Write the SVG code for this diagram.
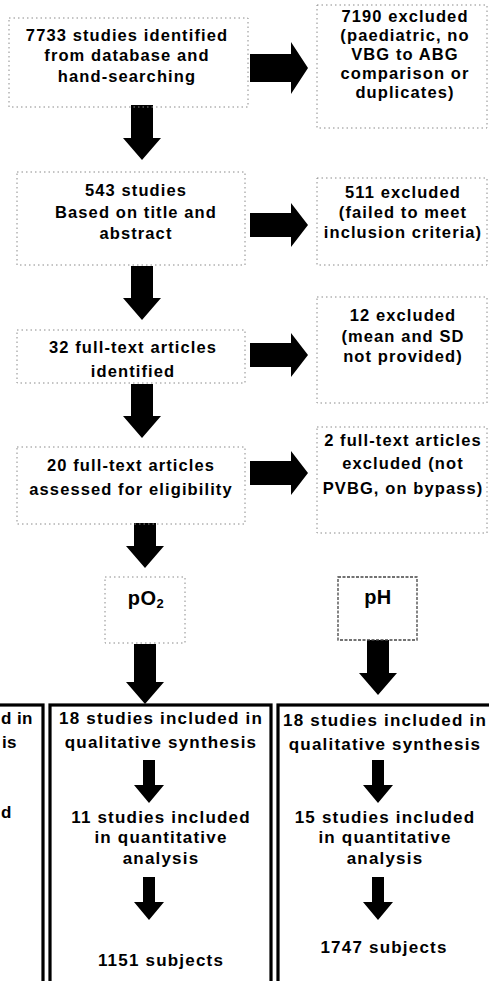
<svg xmlns="http://www.w3.org/2000/svg" width="489" height="981" viewBox="0 0 489 981">
<style>
  .t { font-family: "Liberation Sans", Arial, sans-serif; font-weight: 700; font-size: 16.5px; letter-spacing: 1.1px; fill: #000; text-anchor: middle; }
  .b { font-size: 17px; letter-spacing: 1.2px; }
  .te { text-anchor: end; }
  .ts { text-anchor: start; letter-spacing: 0.4px; }
  .lab { font-size: 20px; letter-spacing: 0.5px; }
  .faint { fill: none; stroke: #8a8a8a; stroke-width: 1; stroke-dasharray: 1.5 3; }
  .mid { fill: none; stroke: #444; stroke-width: 1.3; stroke-dasharray: 3 1.5; }
  .heavy { fill: none; stroke: #000; stroke-width: 3.2; }
  .blk { fill: #000; }
</style>
<rect width="489" height="981" fill="#fff"/>

<g id="connectors">
  <path class="blk" d="M131,105 H153 V138 H161 L142,160 L123,138 H131 Z"/>
  <path class="blk" d="M131,266 H153 V298 H161 L142,320 L123,298 H131 Z"/>
  <path class="blk" d="M131,384 H153 V416 H161 L142,438 L123,416 H131 Z"/>
  <path class="blk" d="M134,523 H156 V546 H164 L145,568 L126,546 H134 Z"/>
  <path class="blk" d="M134,644 H156 V682 H164 L145,704 L126,682 H134 Z"/>
  <path class="blk" d="M367,640 H389 V673 H397 L378,695 L359,673 H367 Z"/>
  <path class="blk" d="M250,54 H291 V42 L308,68 L291,94 V82 H250 Z"/>
  <path class="blk" d="M250,213 H291 V203 L308,225 L291,247 V237 H250 Z"/>
  <path class="blk" d="M250,343 H291 V333 L308,355 L291,377 V367 H250 Z"/>
  <path class="blk" d="M250,461 H291 V451 L308,473 L291,495 V485 H250 Z"/>
  <path class="blk" d="M143,760 H155 V785 H164 L149,803 L134,785 H143 Z"/>
  <path class="blk" d="M143,877 H155 V902 H164 L149,920 L134,902 H143 Z"/>
  <path class="blk" d="M372,760 H384 V785 H393 L378,803 L363,785 H372 Z"/>
  <path class="blk" d="M372,877 H384 V902 H393 L378,920 L363,902 H372 Z"/>
</g>

<g id="n-identified">
  <rect class="faint" x="9" y="18" width="239" height="89"/>
  <text class="t" x="127" y="41">7733 studies identified</text>
  <text class="t" x="127" y="61">from database and</text>
  <text class="t" x="127" y="82">hand-searching</text>
</g>
<g id="n-excl1">
  <rect class="faint" x="317" y="5" width="170" height="123"/>
  <text class="t" x="405" y="22">7190 excluded</text>
  <text class="t" x="405" y="41">(paediatric, no</text>
  <text class="t" x="405" y="60">VBG to ABG</text>
  <text class="t" x="405" y="79">comparison or</text>
  <text class="t" x="405" y="98">duplicates)</text>
</g>
<g id="n-543">
  <rect class="faint" x="17" y="172" width="228" height="93"/>
  <text class="t" x="136" y="196">543 studies</text>
  <text class="t" x="136" y="218">Based on title and</text>
  <text class="t" x="136" y="239">abstract</text>
</g>
<g id="n-excl2">
  <rect class="faint" x="317" y="178" width="170" height="87"/>
  <text class="t" x="403" y="198">511 excluded</text>
  <text class="t" x="403" y="218">(failed to meet</text>
  <text class="t" x="403" y="238">inclusion criteria)</text>
</g>
<g id="n-32">
  <rect class="faint" x="17" y="330" width="228" height="53"/>
  <text class="t" x="133" y="353">32 full-text articles</text>
  <text class="t" x="133" y="377">identified</text>
</g>
<g id="n-excl3">
  <rect class="faint" x="317" y="297" width="170" height="106"/>
  <text class="t" x="403" y="321">12 excluded</text>
  <text class="t" x="403" y="342">(mean and SD</text>
  <text class="t" x="403" y="362">not provided)</text>
</g>
<g id="n-20">
  <rect class="faint" x="17" y="447" width="228" height="77"/>
  <text class="t" x="131" y="471">20 full-text articles</text>
  <text class="t" x="131" y="495">assessed for eligibility</text>
</g>
<g id="n-excl4">
  <rect class="faint" x="317" y="427" width="170" height="106"/>
  <text class="t" x="403" y="446">2 full-text articles</text>
  <text class="t" x="403" y="469">excluded (not</text>
  <text class="t" x="403" y="494">PVBG, on bypass)</text>
</g>
<g id="n-po2">
  <rect class="faint" x="105" y="577" width="80" height="66"/>
  <text class="t lab" x="146" y="605">pO<tspan font-size="13" dy="3">2</tspan></text>
</g>
<g id="n-ph">
  <rect class="mid" x="338" y="577" width="79" height="63"/>
  <text class="t lab" x="378" y="604">pH</text>
</g>
<g id="n-left-col">
  <rect class="heavy" x="-10" y="705" width="53" height="290"/>
  <text class="t b ts" x="1" y="724">d in</text>
  <text class="t b ts" x="2" y="748">is</text>
  <text class="t b ts" x="1" y="818">d</text>
</g>
<g id="n-po2-col">
  <rect class="heavy" x="50" y="705" width="221" height="290"/>
  <text class="t b" x="161" y="724">18 studies included in</text>
  <text class="t b" x="161" y="748">qualitative synthesis</text>
  <text class="t b" x="161" y="823">11 studies included</text>
  <text class="t b" x="161" y="843">in quantitative</text>
  <text class="t b" x="161" y="864">analysis</text>
  <text class="t b" x="161" y="966">1151 subjects</text>
</g>
<g id="n-ph-col">
  <rect class="heavy" x="278" y="705" width="220" height="290"/>
  <text class="t b" x="385" y="726">18 studies included in</text>
  <text class="t b" x="385" y="750">qualitative synthesis</text>
  <text class="t b" x="385" y="823">15 studies included</text>
  <text class="t b" x="385" y="843">in quantitative</text>
  <text class="t b" x="385" y="864">analysis</text>
  <text class="t b" x="384" y="953">1747 subjects</text>
</g>
</svg>
